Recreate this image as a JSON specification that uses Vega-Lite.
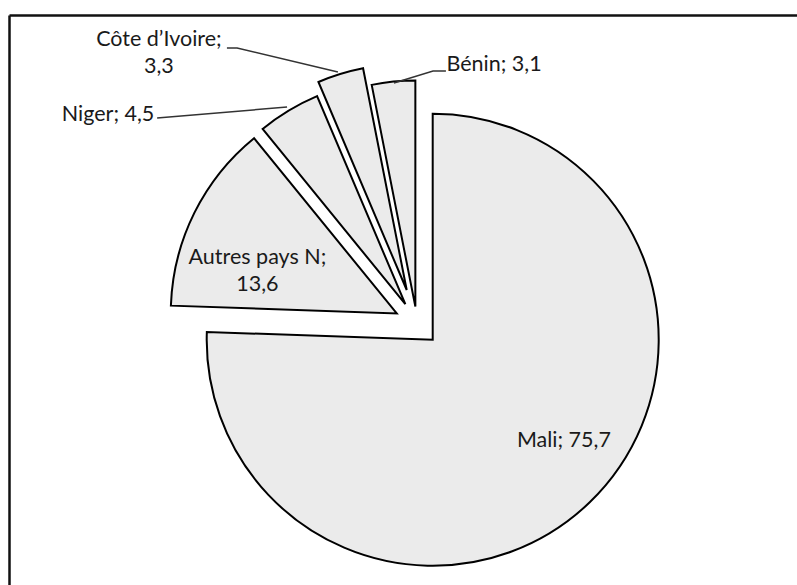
{
  "$schema": "https://vega.github.io/schema/vega-lite/v6.json",
  "width": 797,
  "height": 585,
  "autosize": {"type": "fit", "contains": "padding"},
  "padding": {"left": 9, "top": 15, "right": 0, "bottom": 0},
  "background": "white",
  "config": {
    "view": {"stroke": null},
    "axis": {"title": null, "labels": false, "ticks": false, "grid": false, "domain": true, "domainColor": "#111111", "domainWidth": 2.5, "minExtent": 0, "maxExtent": 0, "offset": 0}
  },
  "datasets": {
    "slices": [
      {"country": "Mali", "value": 75.7},
      {"country": "Autres pays N", "value": 13.6},
      {"country": "Niger", "value": 4.5},
      {"country": "Côte d’Ivoire", "value": 3.3},
      {"country": "Bénin", "value": 3.1}
    ],
    "leaders": [
      {"key": "Niger", "seq": 1, "lx": -115.0, "ly": 90.9},
      {"key": "Niger", "seq": 2, "lx": -57.5, "ly": 95.8},
      {"key": "Cote", "seq": 1, "lx": -84.1, "ly": 121.9},
      {"key": "Cote", "seq": 2, "lx": -79.6, "ly": 121.9},
      {"key": "Cote", "seq": 3, "lx": -35.0, "ly": 111.3},
      {"key": "Benin", "seq": 1, "lx": 12.8, "ly": 111.7},
      {"key": "Benin", "seq": 2, "lx": 7.1, "ly": 111.7},
      {"key": "Benin", "seq": 3, "lx": -10.2, "ly": 106.4}
    ],
    "labels": [
      {"label": "Mali; 75,7", "lx": 65.0, "ly": -52.0},
      {"label": "Autres pays N;\n13,6", "lx": -70.6, "ly": 29.0},
      {"label": "Côte d’Ivoire;\n3,3", "lx": -114.2, "ly": 125.4},
      {"label": "Niger; 4,5", "lx": -136.7, "ly": 92.3},
      {"label": "Bénin; 3,1", "lx": 34.1, "ly": 114.4}
    ]
  },
  "encoding": {
    "x": {"type": "quantitative", "scale": {"domain": [-180.53, 168.14], "nice": false, "zero": false}, "axis": {"orient": "top"}},
    "y": {"type": "quantitative", "scale": {"domain": [-115.71, 136.5], "nice": false, "zero": false}, "axis": {"orient": "left"}}
  },
  "layer": [
    {
      "data": {"name": "slices"},
      "transform": [
        {"window": [{"op": "sum", "field": "value", "as": "cum"}], "frame": [null, 0]},
        {"joinaggregate": [{"op": "sum", "field": "value", "as": "total"}]},
        {"calculate": "datum.cum - datum.value", "as": "start"},
        {"calculate": "2*PI*(datum.cum - datum.value/2)/datum.total", "as": "mid"},
        {"calculate": "indexof(datum.country, 'Ivoire') >= 0 ? 15.5 : (datum.country === 'Bénin' ? 7.5 : 10)", "as": "explode"},
        {"calculate": "datum.explode*sin(datum.mid)", "as": "ex"},
        {"calculate": "datum.explode*cos(datum.mid)", "as": "ey"}
      ],
      "mark": {"type": "arc", "radius": 226, "fill": "#ebebeb", "stroke": "#000000", "strokeWidth": 2, "strokeJoin": "miter"},
      "encoding": {
        "x": {"field": "ex", "type": "quantitative"},
        "y": {"field": "ey", "type": "quantitative"},
        "theta": {"field": "cum", "type": "quantitative", "stack": null},
        "theta2": {"field": "start"}
      }
    },
    {
      "data": {"name": "leaders"},
      "mark": {"type": "line", "stroke": "#333333", "strokeWidth": 1.5},
      "encoding": {
        "x": {"field": "lx", "type": "quantitative"},
        "y": {"field": "ly", "type": "quantitative"},
        "detail": {"field": "key", "type": "nominal"},
        "order": {"field": "seq", "type": "quantitative"}
      }
    },
    {
      "data": {"name": "labels"},
      "mark": {"type": "text", "font": "Lato", "fontSize": 21.5, "lineHeight": 27, "lineBreak": "\n", "align": "center", "baseline": "middle", "color": "#1a1a1a"},
      "encoding": {
        "x": {"field": "lx", "type": "quantitative"},
        "y": {"field": "ly", "type": "quantitative"},
        "text": {"field": "label", "type": "nominal"}
      }
    }
  ]
}
